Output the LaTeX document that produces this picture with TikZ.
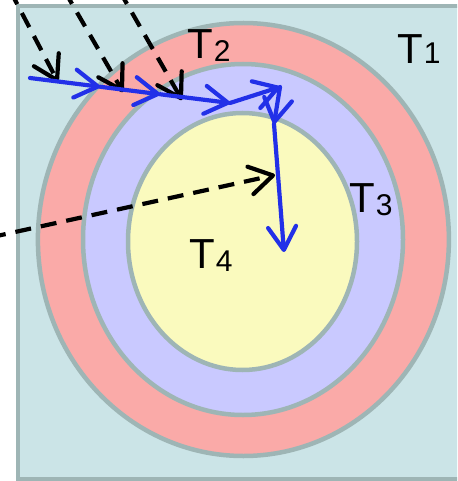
\documentclass[tikz,border=0pt]{standalone}
\usepackage{fontspec}
\setmainfont{Liberation Sans}
\usetikzlibrary{arrows.meta}
\definecolor{bgc}{RGB}{203,228,231}
\definecolor{edgec}{RGB}{158,181,181}
\definecolor{redc}{RGB}{250,170,168}
\definecolor{purc}{RGB}{201,201,255}
\definecolor{yelc}{RGB}{250,250,190}
\definecolor{bluec}{RGB}{34,48,232}
\newcommand{\sub}[2]{\kern1pt\raisebox{#1}{\fontsize{30}{30}\selectfont #2}}
\begin{document}
\begin{tikzpicture}[x=1pt,y=-1pt,
  zone/.style={fill=#1, draw=edgec, line width=4.5pt},
  ray/.style={line width=4.2pt, line join=round, -{Straight Barb[length=23pt,width=28pt,round]}},
  blueray/.style={ray, draw=bluec, line cap=round},
  dray/.style={ray, draw=black, dash pattern=on 16pt off 10pt},
  lab/.style={anchor=base west, inner sep=0pt, font=\fontsize{42}{42}\selectfont}]
\useasboundingbox (0,0) rectangle (457,481);
\clip (0,0) rectangle (457,481);
% regions
\draw[zone=bgc] (18,6) rectangle (470,479.5);
\draw[zone=redc] (243.4,239.5) ellipse [x radius=205.5, y radius=216.5];
\draw[zone=purc] (243,239.5) ellipse [x radius=160, y radius=175.5];
\draw[zone=yelc] (242.5,241.5) ellipse [x radius=114.5, y radius=128.5];
% labels
\node[lab] (t1) at (397,64) {T\sub{0pt}{1}};
\node[lab] (t2) at (187,59) {T\sub{-3pt}{2}};
\node[lab] (t3) at (349,212) {T\sub{-3pt}{3}};
\node[lab] (t4) at (189,268) {T\sub{-3pt}{4}};
% coordinates
\coordinate (d1s) at (9.8,-10);
\coordinate (d1e) at (58,82);
\coordinate (d2s) at (64,-10);
\coordinate (d2e) at (123,92);
\coordinate (d3s) at (119,-10);
\coordinate (d3e) at (182,100);
\coordinate (d4s) at (-10,237.5);
\coordinate (d4e) at (275,175);
\coordinate (b0) at (30,78);
\coordinate (b1) at (100,86.75);
\coordinate (b2) at (160,94.25);
\coordinate (b3) at (230,103);
\coordinate (b4) at (280,87);
\coordinate (b5) at (274,124);
\coordinate (b6) at (284,252);
% black dashed rays
\draw[dray] (d1s) -- (d1e);
\draw[dray] (d2s) -- (d2e);
\draw[dray] (d3s) -- (d3e);
\draw[dray] (d4s) -- (d4e);
% blue refracted path
\draw[blueray] (b0) -- (b1);
\draw[blueray] (b1) -- (b2);
\draw[blueray] (b2) -- (b3);
\draw[blueray] (b3) -- (b4);
\draw[blueray] (b4) -- (b5);
\draw[blueray] (b5) -- (b6);
\end{tikzpicture}
\end{document}
